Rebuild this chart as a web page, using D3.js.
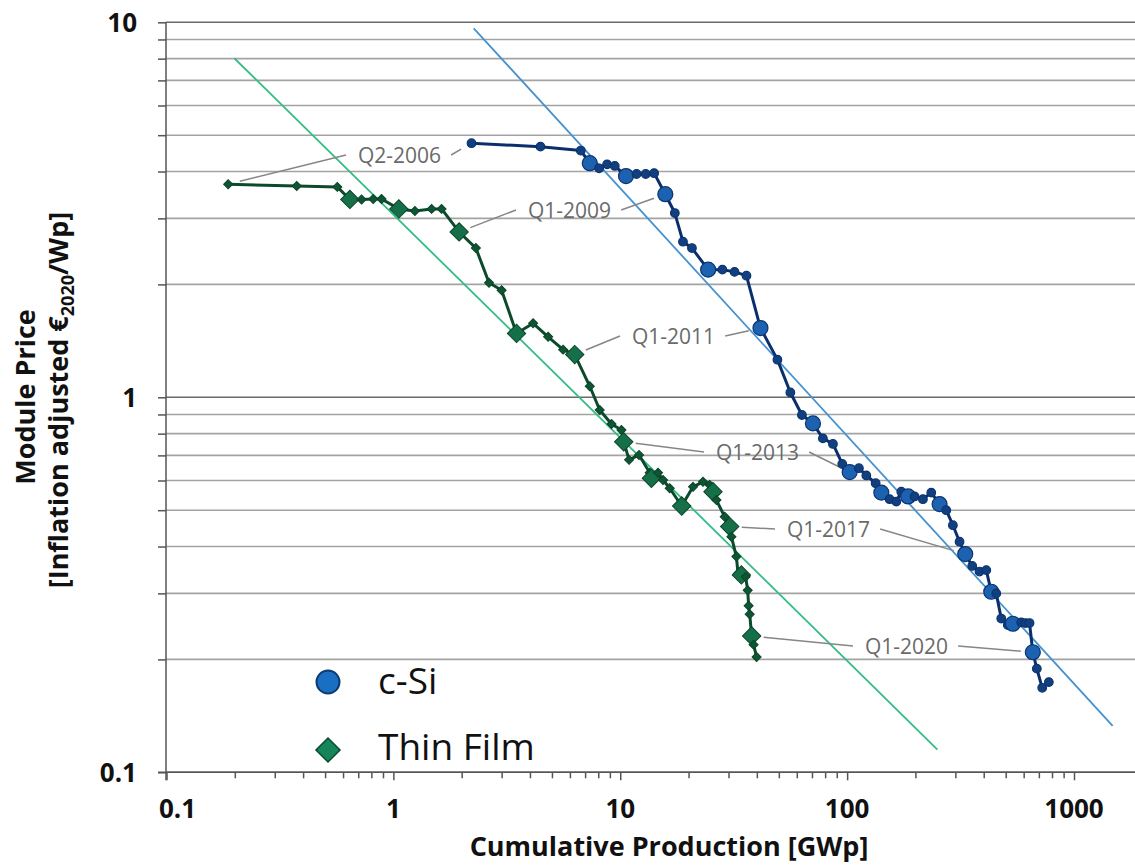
<!DOCTYPE html>
<html><head><meta charset="utf-8">
<script src="https://cdn.jsdelivr.net/npm/d3@7"></script>
<style>body{margin:0;background:#fff} svg{display:block}</style>
</head><body><svg id="c" width="1135" height="868"></svg>
<script>
// ---------------- data ----------------
const cSiX = [2.21,4.45,6.70,7.34,8.07,8.75,9.46,10.6,11.8,12.95,14.1,15.8,17.4,18.9,20.7,24.4,28.2,31.9,36.0,41.5,49.3,56.2,63.2,70.7,78.2,86.6,95.2,102.6,112.7,121.5,133.6,141.5,153.9,164.7,173.3,185.7,198.3,215.8,234.9,255.6,273.5,292.5,313.0,331.6,356.0,383.4,410.5,431.8,454.3,477.9,510.9,537.6,585.4,611.5,636.8,658.4,685.7,724.4,774.5];
const cSiY = [4.76,4.66,4.55,4.21,4.08,4.18,4.14,3.89,3.94,3.94,3.96,3.48,3.10,2.60,2.50,2.19,2.19,2.16,2.11,1.53,1.26,1.03,0.897,0.852,0.777,0.751,0.664,0.632,0.647,0.619,0.590,0.557,0.535,0.527,0.560,0.544,0.544,0.535,0.557,0.519,0.500,0.456,0.412,0.382,0.355,0.343,0.346,0.303,0.300,0.257,0.247,0.249,0.251,0.250,0.250,0.209,0.189,0.168,0.174];
const cSiBig = [0,0,0,1,0,0,0,1,0,0,0,1,0,0,0,1,0,0,0,1,0,0,0,1,0,0,0,1,0,0,0,1,0,0,0,1,0,0,0,1,0,0,0,1,0,0,0,1,0,0,0,1,0,0,0,1,0,0,0];

const tfX = [0.187,0.375,0.566,0.643,0.724,0.815,0.887,1.057,1.244,1.474,1.631,1.949,2.31,2.64,3.00,3.49,4.13,4.81,5.60,6.30,7.34,8.12,9.15,10.12,10.36,10.94,12.10,13.49,13.72,14.67,15.44,16.52,18.66,20.93,23.16,24.79,25.63,26.54,28.87,30.37,30.90,32.50,33.04,34.19,35.7,36.45,36.8,37.2,37.96,38.7,39.9];
const tfY = [3.70,3.66,3.64,3.37,3.37,3.38,3.38,3.18,3.14,3.18,3.18,2.76,2.50,2.02,1.93,1.48,1.575,1.45,1.34,1.30,1.07,0.925,0.849,0.818,0.761,0.681,0.702,0.629,0.608,0.629,0.602,0.572,0.513,0.577,0.595,0.584,0.560,0.532,0.480,0.452,0.425,0.376,0.339,0.336,0.332,0.306,0.278,0.264,0.231,0.219,0.203];
const tfBig = [0,0,0,1,0,0,0,1,0,0,0,1,0,0,0,1,0,0,0,1,0,0,0,0,1,0,0,0,1,0,0,0,1,0,0,0,1,0,0,1,0,0,0,1,0,0,0,0,1,0,0];

const trendCSiX = [2.26, 1480];
const trendCSiY = [9.64, 0.133];
const trendTfX = [0.199, 250];
const trendTfY = [8.02, 0.115];

const annLabels = ["Q2-2006","Q1-2009","Q1-2011","Q1-2013","Q1-2017","Q1-2020"];
const annTfIdx  = [0, 11, 19, 24, 39, 48];
const annCSiIdx = [0, 11, 19, 27, 43, 55];

const yGridValues = [0.1,0.2,0.3,0.4,0.5,0.6,0.7,0.8,0.9,1,2,3,4,5,6,7,8,9,10];
const yLabelValues = [0.1, 1, 10];
const yLabelText = ["0.1","1","10"];
const xTickValues = [0.1,0.2,0.3,0.4,0.5,0.6,0.7,0.8,0.9,1,2,3,4,5,6,7,8,9,10,20,30,40,50,60,70,80,90,100,200,300,400,500,600,700,800,900,1000];
const xLabelValues = [0.1, 1, 10, 100, 1000];
const xLabelText = ["0.1","1","10","100","1000"];
const legendNames = ["c-Si","Thin Film"];

// ---------------- layout ----------------
const W = 1135, H = 868;
const FONT = "'Open Sans', 'Noto Sans', sans-serif";
const x = d3.scaleLog().domain([0.1, 1000]).range([166.5, 1074]);
const y = d3.scaleLog().domain([0.1, 10]).range([772.3, 22.3]);
const svg = d3.select('#c');

// gridlines
svg.append('g').selectAll('line').data(yGridValues).join('line')
  .attr('x1', 166).attr('x2', W)
  .attr('y1', d => y(d)).attr('y2', d => y(d))
  .attr('stroke', d => yLabelValues.includes(d) ? '#6a6a6a' : '#a3a3a3')
  .attr('stroke-width', 1.6);

// y axis ticks
const yAxis = d3.axisLeft(y).tickValues(yGridValues).tickSize(8).tickFormat('');
const gy = svg.append('g').attr('transform', 'translate(166,0)').call(yAxis);
gy.select('.domain').remove();
gy.selectAll('.tick line').attr('stroke', '#555').attr('stroke-width', 1.5);
svg.append('line').attr('x1', 166).attr('x2', 166).attr('y1', y(10)).attr('y2', y(0.1) + 8)
  .attr('stroke', '#555').attr('stroke-width', 1.5);

// x axis ticks
const xAxis = d3.axisBottom(x).tickValues(xTickValues).tickSize(6).tickFormat('');
const gx = svg.append('g').attr('transform', `translate(0,${y(0.1)})`).call(xAxis);
gx.select('.domain').remove();
gx.selectAll('.tick line').attr('stroke', '#555').attr('stroke-width', 1.5)
  .attr('y2', d => xLabelValues.includes(d) ? 8 : 6);
svg.append('line').attr('x1', 158).attr('x2', W).attr('y1', y(0.1)).attr('y2', y(0.1))
  .attr('stroke', '#555').attr('stroke-width', 1.6);

// tick labels
svg.append('g').selectAll('text').data(yLabelValues).join('text')
  .attr('x', 137).attr('y', d => y(d)).attr('dy', '0.36em')
  .attr('text-anchor', 'end').attr('font-family', FONT).attr('font-weight', 700)
  .attr('font-size', 26).attr('fill', '#111')
  .text((d, i) => yLabelText[i]);
svg.append('g').selectAll('text').data(xLabelValues).join('text')
  .attr('x', (d, i) => x(d) + (i === 0 ? 11 : 0)).attr('y', 818)
  .attr('text-anchor', 'middle').attr('font-family', FONT).attr('font-weight', 700)
  .attr('font-size', 26).attr('fill', '#111')
  .text((d, i) => xLabelText[i]);

// axis titles
svg.append('text').attr('x', 669).attr('y', 856).attr('text-anchor', 'middle')
  .attr('font-family', FONT).attr('font-weight', 700).attr('font-size', 27).attr('fill', '#111')
  .text('Cumulative Production [GWp]');
svg.append('text').attr('transform', 'translate(35,397) rotate(-90)').attr('text-anchor', 'middle')
  .attr('font-family', FONT).attr('font-weight', 700).attr('font-size', 27).attr('fill', '#111')
  .text('Module Price');
const t2 = svg.append('text').attr('transform', 'translate(68,400) rotate(-90)').attr('text-anchor', 'middle')
  .attr('font-family', FONT).attr('font-weight', 700).attr('font-size', 27).attr('fill', '#111');
t2.append('tspan').text('[Inflation adjusted €');
t2.append('tspan').attr('font-size', 18).attr('dy', 6).text('2020');
t2.append('tspan').attr('dy', -6).text('/Wp]');

// trend lines
svg.append('line').attr('x1', x(trendTfX[0])).attr('y1', y(trendTfY[0]))
  .attr('x2', x(trendTfX[1])).attr('y2', y(trendTfY[1]))
  .attr('stroke', '#33bd84').attr('stroke-width', 1.8);
svg.append('line').attr('x1', x(trendCSiX[0])).attr('y1', y(trendCSiY[0]))
  .attr('x2', x(trendCSiX[1])).attr('y2', y(trendCSiY[1]))
  .attr('stroke', '#4592d0').attr('stroke-width', 1.8);

// annotations
const annLayout = [[358,163],[528,218],[632,344],[716,460],[787,537],[865,654]];
const annG = svg.append('g');
annLabels.forEach((lab, i) => {
  const [tx, ty] = annLayout[i];
  const t = annG.append('text').attr('x', tx).attr('y', ty)
    .attr('font-family', FONT).attr('font-size', 21).attr('fill', '#6a6a6a').text(lab);
  const w = t.node().getComputedTextLength();
  const pL = [x(tfX[annTfIdx[i]]), y(tfY[annTfIdx[i]])];
  const pR = [x(cSiX[annCSiIdx[i]]), y(cSiY[annCSiIdx[i]])];
  const aL = [tx - 12, ty - 8];
  const aR = [tx + w + 10, ty - 8];
  function seg(p, a, gap) {
    const dx = a[0] - p[0], dy = a[1] - p[1], L = Math.hypot(dx, dy);
    return [p[0] + dx / L * gap, p[1] + dy / L * gap, a[0], a[1]];
  }
  [seg(pL, aL, 12), seg(pR, aR, 12)].forEach(s => {
    annG.append('line').attr('x1', s[0]).attr('y1', s[1]).attr('x2', s[2]).attr('y2', s[3])
      .attr('stroke', '#8a8484').attr('stroke-width', 1.5);
  });
});

// series lines
const lineGen = d3.line().x(d => x(d[0])).y(d => y(d[1]));
const tfData = tfX.map((v, i) => [v, tfY[i], tfBig[i]]);
const cSiData = cSiX.map((v, i) => [v, cSiY[i], cSiBig[i]]);

svg.append('path').datum(tfData).attr('d', lineGen).attr('fill', 'none')
  .attr('stroke', '#0c4a2c').attr('stroke-width', 3).attr('stroke-linejoin', 'round');
svg.append('g').selectAll('path').data(tfData).join('path')
  .attr('transform', d => `translate(${x(d[0])},${y(d[1])}) rotate(45)`)
  .attr('d', d => { const s = d[2] ? 6.5 : 3.2; return `M${-s},${-s}H${s}V${s}H${-s}Z`; })
  .attr('fill', d => d[2] ? '#15704a' : '#0e5534')
  .attr('stroke', '#0b4529').attr('stroke-width', 1);

svg.append('path').datum(cSiData).attr('d', lineGen).attr('fill', 'none')
  .attr('stroke', '#0b2f6c').attr('stroke-width', 3).attr('stroke-linejoin', 'round');
svg.append('g').selectAll('circle').data(cSiData).join('circle')
  .attr('cx', d => x(d[0])).attr('cy', d => y(d[1]))
  .attr('r', d => d[2] ? 7.5 : 4.3)
  .attr('fill', d => d[2] ? '#1d62b0' : '#123f80')
  .attr('stroke', '#0b3470').attr('stroke-width', 1.2);

// legend
const lg = svg.append('g');
lg.append('circle').attr('cx', 328).attr('cy', 682).attr('r', 11.5)
  .attr('fill', '#1b6fc3').attr('stroke', '#0d3b73').attr('stroke-width', 2);
lg.append('path').attr('transform', 'translate(328,750) rotate(45)')
  .attr('d', 'M-8.5,-8.5H8.5V8.5H-8.5Z').attr('fill', '#17855a').attr('stroke', '#0b4a2c').attr('stroke-width', 1.5);
lg.selectAll('text').data(legendNames).join('text')
  .attr('x', 378).attr('y', (d, i) => i === 0 ? 694 : 760)
  .attr('font-family', FONT).attr('font-size', 37).attr('fill', '#111').text(d => d);
</script></body></html>
